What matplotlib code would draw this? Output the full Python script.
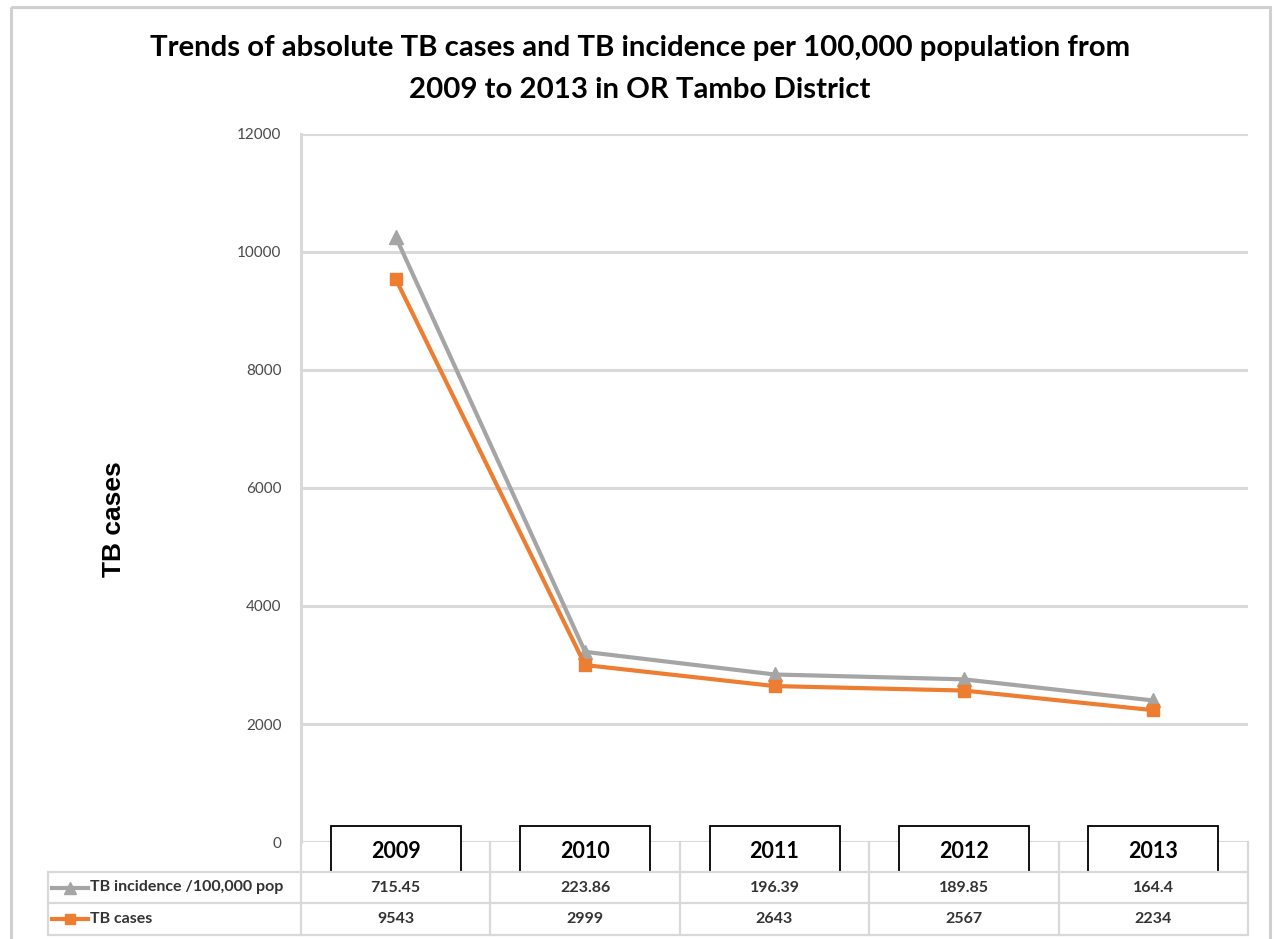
import matplotlib.pyplot as plt
from matplotlib.patches import Rectangle
from matplotlib.lines import Line2D

years = ['2009', '2010', '2011', '2012', '2013']
incidence = [715.45, 223.86, 196.39, 189.85, 164.4]
cases = [9543, 2999, 2643, 2567, 2234]
incidence_labels = ['715.45', '223.86', '196.39', '189.85', '164.4']
case_labels = ['9543', '2999', '2643', '2567', '2234']
series_names = ['TB incidence /100,000 pop', 'TB cases']
title_lines = ['Trends of absolute TB cases and TB incidence per 100,000 population from',
               '2009 to 2013 in OR Tambo District']

W, H = 1275, 939
GRID = '#d9d9d9'
GRAY = '#a5a5a5'
ORANGE = '#ed7d31'

plt.rcParams['font.family'] = ['Lato', 'DejaVu Sans']

fig = plt.figure(figsize=(W / 100, H / 100), dpi=100)


def px(x0, y0, x1, y1):
    """pixel box (top-left origin) -> figure fraction rect"""
    return [x0 / W, 1 - y1 / H, (x1 - x0) / W, (y1 - y0) / H]


ax = fig.add_axes(px(301, 134, 1248, 842))
xs = list(range(len(years)))
# excel "stacked line": incidence drawn on top of cases
stacked = [c + i for c, i in zip(cases, incidence)]
ax.plot(xs, stacked, color=GRAY, lw=3, marker='^', ms=10, zorder=3, clip_on=False)
ax.plot(xs, cases, color=ORANGE, lw=3, marker='s', ms=9, zorder=4, clip_on=False)
ax.set_xlim(-0.5, len(years) - 0.5)
ax.set_ylim(0, 12000)
ax.set_yticks(range(0, 12001, 2000))
ax.set_xticks([])
ax.grid(axis='y', color=GRID, lw=2.2)
ax.set_axisbelow(True)
for s in ['top', 'right', 'bottom']:
    ax.spines[s].set_visible(False)
ax.spines['left'].set_color(GRID)
ax.spines['left'].set_linewidth(2.2)
ax.tick_params(axis='y', length=0, pad=14, labelsize=11, labelcolor='#4a4a4a')

# overlay in pixel coordinates for frame, title, data table
ov = fig.add_axes([0, 0, 1, 1], zorder=5)
ov.patch.set_visible(False)
ov.set_xlim(0, W)
ov.set_ylim(H, 0)
ov.axis('off')


def to_px(xv):
    return ax.transData.transform((xv, 0))[0]


centers = [to_px(i) for i in xs]
bounds = [to_px(i - 0.5) for i in range(len(years) + 1)]

ov.add_patch(Rectangle((11, 7), 1259, 945, fill=False, ec='#d0d0d0', lw=2.2, clip_on=False))

ov.text(640, 48, title_lines[0], ha='center', va='center', fontsize=21.2, fontweight='bold',
        color='black')
ov.text(640, 90, title_lines[1], ha='center', va='center', fontsize=21.2, fontweight='bold',
        color='black')
ov.text(114, 519, 'TB cases', rotation=90, ha='center', va='center', fontsize=19,
        family=['Liberation Sans', 'DejaVu Sans'], fontweight='bold', color='black')

# data table
tab_left, row_top, row_mid, row_bot = 48, 872, 903, 935
for yy in (row_top, row_mid, row_bot):
    ov.plot([tab_left, bounds[-1]], [yy, yy], color=GRID, lw=1.6)
ov.plot([tab_left, tab_left], [row_top, row_bot], color=GRID, lw=1.6)
for bx in bounds:
    ov.plot([bx, bx], [842, row_bot], color=GRID, lw=1.6)

row_y = [(row_top + row_mid) / 2, (row_mid + row_bot) / 2]
ov.add_line(Line2D([52, 88], [row_y[0], row_y[0]], color=GRAY, lw=3))
ov.plot([70], [row_y[0]], marker='^', color=GRAY, ms=8)
ov.add_line(Line2D([52, 88], [row_y[1], row_y[1]], color=ORANGE, lw=3))
ov.plot([70], [row_y[1]], marker='s', color=ORANGE, ms=7)
for name, yy in zip(series_names, row_y):
    ov.text(90, yy, name, ha='left', va='center', fontsize=11.5, fontweight='bold',
            color='#333333')

for cx, a, b in zip(centers, incidence_labels, case_labels):
    ov.text(cx, row_y[0], a, ha='center', va='center', fontsize=11.5, fontweight='bold',
            color='#333333')
    ov.text(cx, row_y[1], b, ha='center', va='center', fontsize=11.5, fontweight='bold',
            color='#333333')

# year boxes
for cx, yr in zip(centers, years):
    ov.add_patch(Rectangle((cx - 65, 826), 130, 46, fc='white', ec='black', lw=1.3))
    ov.text(cx, 851, yr, ha='center', va='center', fontsize=15.5, fontweight='bold', color='black')

fig.savefig('out.png', dpi=100)
